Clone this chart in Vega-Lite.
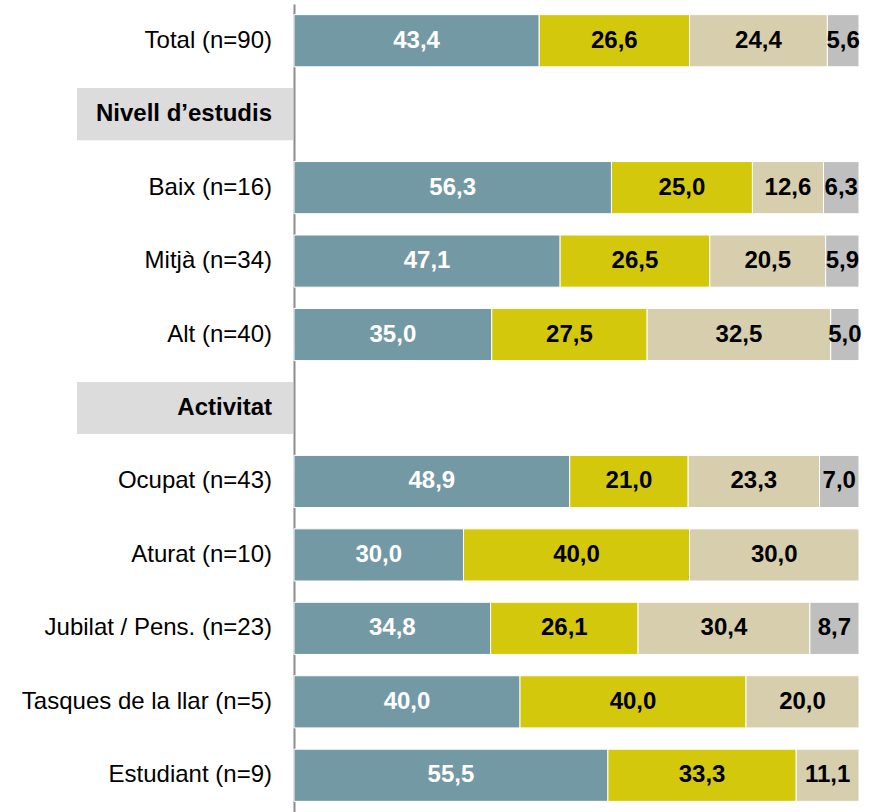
{
  "$schema": "https://vega.github.io/schema/vega-lite/v6.json",
  "autosize": {"type": "pad"},
  "padding": {"left": 21, "top": 4, "right": 23, "bottom": 0},
  "background": "white",
  "config": {
    "view": {"stroke": null},
    "font": "Liberation Sans",
    "concat": {"spacing": 0}
  },
  "datasets": {
    "files": [
      {"fila": "Total (n=90)", "tipus": "categoria"},
      {"fila": "Nivell d’estudis", "tipus": "grup"},
      {"fila": "Baix (n=16)", "tipus": "categoria"},
      {"fila": "Mitjà (n=34)", "tipus": "categoria"},
      {"fila": "Alt (n=40)", "tipus": "categoria"},
      {"fila": "Activitat", "tipus": "grup"},
      {"fila": "Ocupat (n=43)", "tipus": "categoria"},
      {"fila": "Aturat (n=10)", "tipus": "categoria"},
      {"fila": "Jubilat / Pens. (n=23)", "tipus": "categoria"},
      {"fila": "Tasques de la llar (n=5)", "tipus": "categoria"},
      {"fila": "Estudiant (n=9)", "tipus": "categoria"}
    ],
    "valors": [
      {"fila": "Total (n=90)", "serie": "Categoria 1", "pct": 43.4, "etiqueta": "43,4"},
      {"fila": "Total (n=90)", "serie": "Categoria 2", "pct": 26.6, "etiqueta": "26,6"},
      {"fila": "Total (n=90)", "serie": "Categoria 3", "pct": 24.4, "etiqueta": "24,4"},
      {"fila": "Total (n=90)", "serie": "Categoria 4", "pct": 5.6, "etiqueta": "5,6"},
      {"fila": "Baix (n=16)", "serie": "Categoria 1", "pct": 56.3, "etiqueta": "56,3"},
      {"fila": "Baix (n=16)", "serie": "Categoria 2", "pct": 25.0, "etiqueta": "25,0"},
      {"fila": "Baix (n=16)", "serie": "Categoria 3", "pct": 12.6, "etiqueta": "12,6"},
      {"fila": "Baix (n=16)", "serie": "Categoria 4", "pct": 6.3, "etiqueta": "6,3"},
      {"fila": "Mitjà (n=34)", "serie": "Categoria 1", "pct": 47.1, "etiqueta": "47,1"},
      {"fila": "Mitjà (n=34)", "serie": "Categoria 2", "pct": 26.5, "etiqueta": "26,5"},
      {"fila": "Mitjà (n=34)", "serie": "Categoria 3", "pct": 20.5, "etiqueta": "20,5"},
      {"fila": "Mitjà (n=34)", "serie": "Categoria 4", "pct": 5.9, "etiqueta": "5,9"},
      {"fila": "Alt (n=40)", "serie": "Categoria 1", "pct": 35.0, "etiqueta": "35,0"},
      {"fila": "Alt (n=40)", "serie": "Categoria 2", "pct": 27.5, "etiqueta": "27,5"},
      {"fila": "Alt (n=40)", "serie": "Categoria 3", "pct": 32.5, "etiqueta": "32,5"},
      {"fila": "Alt (n=40)", "serie": "Categoria 4", "pct": 5.0, "etiqueta": "5,0"},
      {"fila": "Ocupat (n=43)", "serie": "Categoria 1", "pct": 48.9, "etiqueta": "48,9"},
      {"fila": "Ocupat (n=43)", "serie": "Categoria 2", "pct": 21.0, "etiqueta": "21,0"},
      {"fila": "Ocupat (n=43)", "serie": "Categoria 3", "pct": 23.3, "etiqueta": "23,3"},
      {"fila": "Ocupat (n=43)", "serie": "Categoria 4", "pct": 7.0, "etiqueta": "7,0"},
      {"fila": "Aturat (n=10)", "serie": "Categoria 1", "pct": 30.0, "etiqueta": "30,0"},
      {"fila": "Aturat (n=10)", "serie": "Categoria 2", "pct": 40.0, "etiqueta": "40,0"},
      {"fila": "Aturat (n=10)", "serie": "Categoria 3", "pct": 30.0, "etiqueta": "30,0"},
      {"fila": "Jubilat / Pens. (n=23)", "serie": "Categoria 1", "pct": 34.8, "etiqueta": "34,8"},
      {"fila": "Jubilat / Pens. (n=23)", "serie": "Categoria 2", "pct": 26.1, "etiqueta": "26,1"},
      {"fila": "Jubilat / Pens. (n=23)", "serie": "Categoria 3", "pct": 30.4, "etiqueta": "30,4"},
      {"fila": "Jubilat / Pens. (n=23)", "serie": "Categoria 4", "pct": 8.7, "etiqueta": "8,7"},
      {"fila": "Tasques de la llar (n=5)", "serie": "Categoria 1", "pct": 40.0, "etiqueta": "40,0"},
      {"fila": "Tasques de la llar (n=5)", "serie": "Categoria 2", "pct": 40.0, "etiqueta": "40,0"},
      {"fila": "Tasques de la llar (n=5)", "serie": "Categoria 3", "pct": 20.0, "etiqueta": "20,0"},
      {"fila": "Estudiant (n=9)", "serie": "Categoria 1", "pct": 55.5, "etiqueta": "55,5"},
      {"fila": "Estudiant (n=9)", "serie": "Categoria 2", "pct": 33.3, "etiqueta": "33,3"},
      {"fila": "Estudiant (n=9)", "serie": "Categoria 3", "pct": 11.1, "etiqueta": "11,1"}
    ]
  },
  "hconcat": [
    {
      "width": 216,
      "height": 808,
      "data": {"name": "files"},
      "encoding": {
        "y": {
          "field": "fila",
          "type": "nominal",
          "sort": null,
          "axis": null,
          "scale": {
            "domain": ["Total (n=90)", "Nivell d’estudis", "Baix (n=16)", "Mitjà (n=34)", "Alt (n=40)", "Activitat", "Ocupat (n=43)", "Aturat (n=10)", "Jubilat / Pens. (n=23)", "Tasques de la llar (n=5)", "Estudiant (n=9)"],
            "paddingInner": 0.29,
            "paddingOuter": 0.145
          }
        }
      },
      "layer": [
        {
          "transform": [{"filter": "datum.tipus == 'grup'"}],
          "mark": {"type": "rect", "color": "#DCDCDC"}
        },
        {
          "transform": [{"filter": "datum.tipus == 'grup'"}],
          "mark": {"type": "text", "align": "right", "baseline": "middle", "dx": -21, "fontSize": 24, "fontWeight": "bold", "color": "#000000"},
          "encoding": {
            "x": {"value": "width"},
            "text": {"field": "fila"}
          }
        },
        {
          "transform": [{"filter": "datum.tipus == 'categoria'"}],
          "mark": {"type": "text", "align": "right", "baseline": "middle", "dx": -21, "fontSize": 24, "fontWeight": "normal", "color": "#000000"},
          "encoding": {
            "x": {"value": "width"},
            "text": {"field": "fila"}
          }
        }
      ]
    },
    {
      "width": 565,
      "height": 808,
      "data": {"name": "valors"},
      "encoding": {
        "y": {
          "field": "fila",
          "type": "nominal",
          "sort": null,
          "scale": {
            "domain": ["Total (n=90)", "Nivell d’estudis", "Baix (n=16)", "Mitjà (n=34)", "Alt (n=40)", "Activitat", "Ocupat (n=43)", "Aturat (n=10)", "Jubilat / Pens. (n=23)", "Tasques de la llar (n=5)", "Estudiant (n=9)"],
            "paddingInner": 0.29,
            "paddingOuter": 0.145
          },
          "axis": {"labels": false, "ticks": false, "title": null, "grid": false, "domain": true, "domainColor": "#8C8C8C", "domainWidth": 2}
        },
        "x": {"field": "pct", "type": "quantitative", "stack": "normalize", "axis": null},
        "order": {"field": "serie"}
      },
      "layer": [
        {
          "mark": {"type": "bar", "stroke": "#FFFFFF", "strokeWidth": 1},
          "encoding": {
            "color": {
              "field": "serie",
              "type": "nominal",
              "legend": null,
              "scale": {"domain": ["Categoria 1", "Categoria 2", "Categoria 3", "Categoria 4"], "range": ["#7399A4", "#D4C80D", "#D6CEAC", "#BFBFBF"]}
            }
          }
        },
        {
          "mark": {"type": "text", "align": "center", "baseline": "middle", "fontSize": 24, "fontWeight": "bold"},
          "encoding": {
            "x": {"field": "pct", "type": "quantitative", "stack": "normalize", "bandPosition": 0.5, "axis": null},
            "detail": {"field": "serie"},
            "text": {"field": "etiqueta"},
            "color": {"condition": {"test": "datum.serie == 'Categoria 1'", "value": "#FFFFFF"}, "value": "#000000"}
          }
        }
      ]
    }
  ]
}
